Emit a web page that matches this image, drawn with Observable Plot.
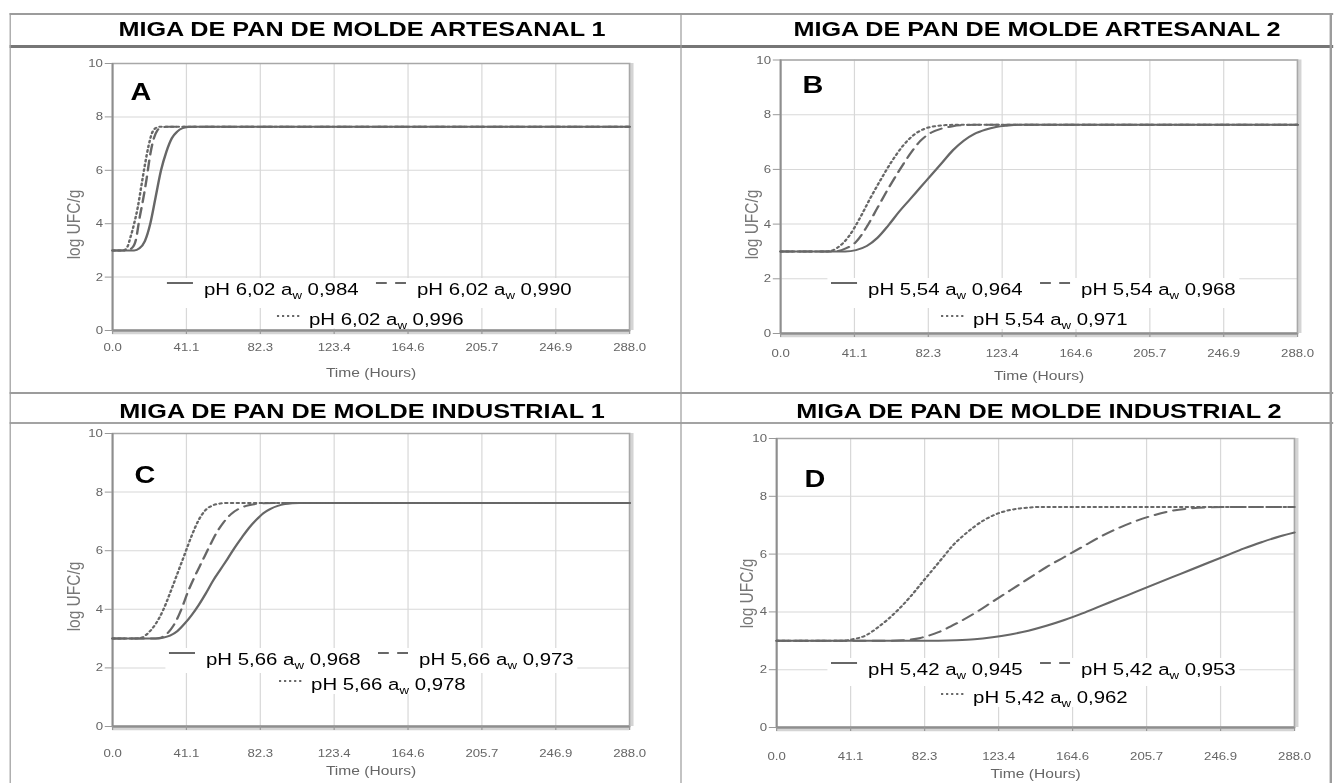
<!DOCTYPE html>
<html>
<head>
<meta charset="utf-8">
<script src="https://cdn.jsdelivr.net/npm/d3@7"></script>
<script src="https://cdn.jsdelivr.net/npm/@observablehq/plot@0.6"></script>
<style>
  html, body { margin: 0; padding: 0; background: #fff; overflow: hidden; }
  #page {
    position: absolute; left: 0; top: 0; width: 1116px; height: 783px;
    transform: scaleX(1.2); transform-origin: 0 0;
    font-family: "Liberation Sans", Arial, sans-serif;
  }
  .rule { position: absolute; }
  .title {
    position: absolute; width: 600px; text-align: center; white-space: nowrap;
    font-weight: bold; font-size: 21px; line-height: 21px; color: #000;
  }
  .panel { position: absolute; }
  .panel svg { overflow: visible; }
</style>
</head>
<body>
<div id="page"></div>
<script>
// ---- values ----------------------------------------------------------
const titles = [
  "MIGA DE PAN DE MOLDE ARTESANAL 1",
  "MIGA DE PAN DE MOLDE ARTESANAL 2",
  "MIGA DE PAN DE MOLDE INDUSTRIAL 1",
  "MIGA DE PAN DE MOLDE INDUSTRIAL 2"
];
const letters = ["A", "B", "C", "D"];
const phValues = ["6,02", "5,54", "5,66", "5,42"];
const awValues = [
  ["0,984", "0,990", "0,996"],
  ["0,964", "0,968", "0,971"],
  ["0,968", "0,973", "0,978"],
  ["0,945", "0,953", "0,962"]
];
const xTicks = [0, 41.14, 82.29, 123.43, 164.57, 205.71, 246.86, 288];
const yTicks = [0, 2, 4, 6, 8, 10];
const xLabel = "Time (Hours)";
const yLabel = "log UFC/g";

// growth curves: [hours, log UFC/g]
const curveA1 = [[0,3],[12,3],[15,3.08],[18,3.35],[21,4.0],[24,5.0],[27,6.0],[30,6.7],[33,7.2],[36,7.45],[39,7.58],[42,7.62],[45,7.63],[288,7.63]];
const curveA2 = [[0,3],[8,3],[11,3.1],[13,3.4],[15,4.2],[17,4.9],[19,5.7],[21,6.6],[23,7.2],[25,7.5],[27,7.6],[30,7.63],[288,7.63]];
const curveA3 = [[0,3],[6,3],[8,3.1],[10,3.5],[12,4.0],[14,4.6],[16,5.4],[18,6.2],[20,6.9],[22,7.4],[24,7.58],[26,7.63],[288,7.63]];

const curveB1 = [[0,3],[36,3],[42,3.05],[48,3.2],[54,3.5],[60,3.95],[66,4.45],[72,4.9],[78,5.35],[84,5.8],[90,6.25],[96,6.7],[102,7.05],[108,7.3],[114,7.45],[120,7.55],[126,7.6],[132,7.63],[288,7.63]];
const curveB2 = [[0,3],[30,3],[36,3.1],[42,3.35],[48,3.9],[54,4.6],[60,5.3],[66,5.95],[72,6.55],[78,7.05],[84,7.35],[90,7.5],[96,7.58],[102,7.62],[108,7.63],[288,7.63]];
const curveB3 = [[0,3],[26,3],[32,3.15],[38,3.55],[44,4.2],[50,4.95],[56,5.65],[62,6.3],[68,6.85],[74,7.25],[80,7.48],[86,7.58],[92,7.62],[98,7.63],[288,7.63]];

const curveC1 = [[0,3],[24,3],[28,3.03],[32,3.1],[36,3.25],[40,3.5],[44,3.8],[48,4.15],[52,4.55],[56,4.98],[60,5.35],[64,5.72],[68,6.1],[72,6.45],[76,6.78],[80,7.05],[84,7.28],[88,7.43],[92,7.53],[96,7.59],[100,7.62],[104,7.63],[288,7.63]];
const curveC2 = [[0,3],[22,3],[26,3.02],[30,3.15],[34,3.45],[38,3.95],[42,4.6],[46,5.15],[50,5.65],[54,6.15],[58,6.62],[62,6.98],[66,7.25],[70,7.42],[74,7.52],[78,7.58],[84,7.62],[90,7.63],[288,7.63]];
const curveC3 = [[0,3],[12,3],[16,3.03],[20,3.2],[24,3.5],[28,3.95],[32,4.55],[36,5.2],[40,5.85],[44,6.5],[48,7.05],[52,7.4],[56,7.55],[60,7.61],[64,7.63],[288,7.63]];

const curveD1 = [[0,3],[80,3],[100,3.02],[110,3.05],[120,3.12],[130,3.22],[140,3.35],[150,3.52],[160,3.72],[170,3.95],[180,4.2],[190,4.45],[200,4.7],[210,4.95],[220,5.2],[230,5.45],[240,5.7],[250,5.95],[260,6.2],[270,6.42],[280,6.62],[288,6.75]];
const curveD2 = [[0,3],[60,3],[70,3.02],[80,3.1],[90,3.3],[100,3.6],[110,3.95],[120,4.35],[130,4.75],[140,5.15],[150,5.55],[160,5.9],[170,6.25],[180,6.6],[190,6.9],[200,7.15],[210,7.35],[220,7.5],[230,7.58],[240,7.62],[250,7.63],[288,7.63]];
const curveD3 = [[0,3],[35,3],[42,3.05],[50,3.2],[56,3.45],[62,3.75],[68,4.1],[74,4.5],[80,4.95],[86,5.4],[92,5.85],[98,6.3],[104,6.65],[110,6.95],[116,7.2],[122,7.38],[128,7.5],[134,7.57],[140,7.61],[146,7.63],[288,7.63]];

const curves = [
  [curveA1, curveA2, curveA3],
  [curveB1, curveB2, curveB3],
  [curveC1, curveC2, curveC3],
  [curveD1, curveD2, curveD3]
];

// ---- layout (page drawn 1/1.2 as wide, then stretched horizontally) ----
const FONT = "'Liberation Sans', Arial, sans-serif";
const LINE = "#676767";
const dashes = [null, "10,6", "1.8,3"];

const panels = [
  {left: 10,  top: 48,  width: 556, height: 342, ml: 83.3, mr: 41.8, mt: 15,   mb: 60,
   xPad: 9,  xLab: 42, yLabDx: 31.7, yLabDy: 27.5, letterDx: 15,   letterBase: 37,
   rows: [35, 5],  legendShift: 0},
  {left: 569, top: 48,  width: 539, height: 342, ml: 81,   mr: 27.2, mt: 11.5, mb: 57,
   xPad: 12, xLab: 42, yLabDx: 24,   yLabDy: 27.7, letterDx: 18.3, letterBase: 33.5,
   rows: [38, 8],  legendShift: -3.3},
  {left: 10,  top: 425, width: 556, height: 358, ml: 83.3, mr: 41.8, mt: 8,    mb: 57,
   xPad: 19, xLab: 44, yLabDx: 31.7, yLabDy: 16.5, letterDx: 18.3, letterBase: 50,
   rows: [61, 36], legendShift: 1.7},
  {left: 569, top: 425, width: 539, height: 358, ml: 77.7, mr: 29.7, mt: 13,   mb: 56,
   xPad: 21, xLab: 46, yLabDx: 25,   yLabDy: 10.5, letterDx: 23.3, letterBase: 49,
   rows: [52, 24], legendShift: 0}
];
const titlePos = [[301.7, 18.2], [864.2, 18.2], [301.7, 400.2], [865.8, 400.2]];

// legend item geometry, relative to the frame's lower-left corner
const legendItems = [
  {row: 0, sx: 45.8,  len: 21.7, tx: 76.7},
  {row: 0, sx: 220,   len: 25,   tx: 254.2},
  {row: 1, sx: 137.5, len: 19.2, tx: 164.2}
];

const page = document.getElementById("page");

// ---- table rules ----
function rule(x, y, w, h, color) {
  const d = document.createElement("div");
  d.className = "rule";
  Object.assign(d.style, {left: x + "px", top: y + "px", width: w + "px", height: h + "px", background: color});
  page.appendChild(d);
}
rule(7.5, 12.5, 1103, 2, "#9c9c9c");
rule(7.5, 45, 1103, 3, "#767676");
rule(7.5, 392, 1103, 2, "#9c9c9c");
rule(7.5, 422, 1103, 2, "#a3a3a3");
rule(7.5, 12.5, 1.7, 771, "#9c9c9c");
rule(566.7, 12.5, 1.7, 771, "#9c9c9c");
rule(1108.4, 12.5, 1.7, 771, "#9c9c9c");

titles.forEach((t, i) => {
  const d = document.createElement("div");
  d.className = "title";
  d.textContent = t;
  d.style.left = (titlePos[i][0] - 300) + "px";
  d.style.top = titlePos[i][1] + "px";
  page.appendChild(d);
});

// ---- panels ----
panels.forEach((p, i) => {
  const marks = [
    Plot.gridX(xTicks, {stroke: "#d8d8d8", strokeOpacity: 1, strokeWidth: 1}),
    Plot.gridY(yTicks, {stroke: "#d8d8d8", strokeOpacity: 1, strokeWidth: 1}),
    Plot.ruleX([288], {stroke: "#d4d4d4", strokeWidth: 2.5, dx: 2}),
    Plot.ruleY([0], {stroke: "#d4d4d4", strokeWidth: 2.5, dy: 2.5}),
    Plot.frame({stroke: "#a8a8a8", strokeWidth: 1.5}),
    Plot.ruleX([0], {stroke: "#8e8e8e", strokeWidth: 1.5}),
    Plot.ruleY([0], {stroke: "#8e8e8e", strokeWidth: 2.5}),
    Plot.axisX(xTicks, {tickFormat: d3.format(".1f"), tickSize: 4, tickPadding: p.xPad,
      stroke: "#999", fill: "#666", fontSize: 11, label: null}),
    Plot.axisY(yTicks, {tickSize: 6, tickPadding: 2, stroke: "#999", fill: "#666",
      fontSize: 11, label: null}),
    Plot.text([xLabel], {text: d => d, frameAnchor: "bottom", dy: p.xLab,
      textAnchor: "middle", lineAnchor: "middle", fontSize: 13, fill: "#666"}),
    Plot.text([yLabel], {text: d => d, frameAnchor: "left", dx: -p.yLabDx, dy: p.yLabDy,
      rotate: -90, textAnchor: "middle", lineAnchor: "middle", fontSize: 15.5, fill: "#777"}),
    Plot.text([letters[i]], {text: d => d, frameAnchor: "top-left", dx: p.letterDx, dy: p.letterBase - 7.7,
      textAnchor: "start", lineAnchor: "middle", fontSize: 24, fontWeight: "bold", fill: "#000"})
  ];
  curves[i].forEach((c, k) => {
    marks.push(Plot.line(c, {x: d => d[0], y: d => d[1], curve: "monotone-x",
      stroke: LINE, strokeWidth: 2, strokeDasharray: dashes[k] || undefined}));
  });

  const svg = Plot.plot({
    width: p.width, height: p.height,
    marginLeft: p.ml, marginRight: p.mr, marginTop: p.mt, marginBottom: p.mb,
    x: {domain: [0, 288]},
    y: {domain: [0, 10]},
    style: {fontFamily: FONT, background: "transparent"},
    marks
  });

  const holder = document.createElement("div");
  holder.className = "panel";
  holder.style.left = p.left + "px";
  holder.style.top = p.top + "px";
  holder.appendChild(svg);
  page.appendChild(holder);

  // legend inside the frame, on white boxes
  const fx = p.ml + p.legendShift;
  const fy = p.height - p.mb;
  const base = p.rows.map(r => fy - r);
  const sel = d3.select(svg);
  const bg = sel.append("g");
  const lg = sel.append("g")
    .attr("font-family", FONT).attr("font-size", 17).attr("fill", "#000")
    .attr("text-anchor", "start");
  const ends = [0, 0];
  legendItems.forEach((it, k) => {
    const y = base[it.row];
    const ly = y - (it.row === 0 ? 12 : 9);
    const ln = lg.append("line")
      .attr("x1", fx + it.sx).attr("x2", fx + it.sx + it.len)
      .attr("y1", ly).attr("y2", ly)
      .attr("stroke", LINE).attr("stroke-width", 2);
    if (dashes[k]) ln.attr("stroke-dasharray", k === 1 ? "9,7" : "1.8,2.4");
    const t = lg.append("text")
      .attr("x", fx + it.tx).attr("y", y)
      .attr("text-anchor", "start").style("white-space", "pre");
    t.append("tspan").text(`pH ${phValues[i]} a`);
    t.append("tspan").attr("font-size", 11).attr("dy", 4).text("w");
    t.append("tspan").attr("dy", -4).text(` ${awValues[i][k]}`);
    const bb = t.node().getBBox();
    ends[it.row] = Math.max(ends[it.row], bb.x + bb.width);
  });
  // row 1 box reaches down to row 2 box
  bg.append("rect")
    .attr("x", fx + legendItems[0].sx - 3).attr("y", base[0] - 17)
    .attr("width", ends[0] + 3 - (fx + legendItems[0].sx - 3))
    .attr("height", base[1] - base[0])
    .attr("fill", "#fff");
  bg.append("rect")
    .attr("x", fx + legendItems[2].sx - 3).attr("y", base[1] - 17)
    .attr("width", ends[1] + 3 - (fx + legendItems[2].sx - 3))
    .attr("height", Math.min(21, fy - 1.5 - (base[1] - 17)))
    .attr("fill", "#fff");
});
</script>
</body>
</html>
